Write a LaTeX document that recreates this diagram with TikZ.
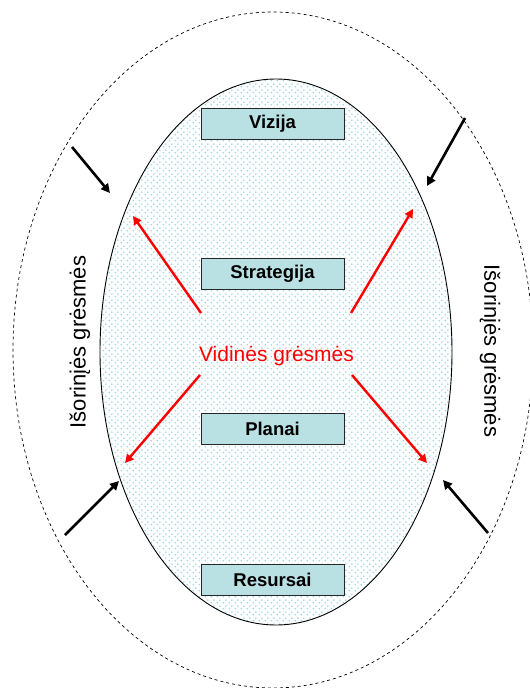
\documentclass[tikz,border=0pt]{standalone}
\usepackage{fontspec}
\setmainfont{Liberation Sans}
\usetikzlibrary{arrows.meta,patterns.meta}
\definecolor{boxfill}{RGB}{185,224,227}
\definecolor{dotcol}{RGB}{150,212,224}
\tikzdeclarepattern{name=ovaldots, type=uncolored,
  bounding box={(0pt,0pt) and (6pt,6pt)}, tile size={(6pt,6pt)},
  code={\fill (1.5pt,1.5pt) circle (0.95pt); \fill (4.5pt,4.5pt) circle (0.95pt);}}
\begin{document}
\begin{tikzpicture}[x=1pt,y=-1pt,
  levelbox/.style={draw=black!85, line width=1pt, fill=boxfill, minimum width=143pt,
    minimum height=31pt, inner sep=0pt, font=\fontsize{18.5}{20}\selectfont\bfseries},
  outarrow/.style={line width=2.6pt, -{Triangle[length=9pt,width=9pt]}},
  inarrow/.style={red, line width=2.4pt, -{Triangle[length=8.5pt,width=8.5pt]}},
  sidetext/.style={font=\fontsize{22}{24}\selectfont}]
\useasboundingbox (0,0) rectangle (530,688);
\fill[white] (0,0) rectangle (530,688);
\begin{scope}
\clip (0,0) rectangle (530,688);
\draw[dash pattern=on 3pt off 3pt, line width=0.7pt] (273,350) ellipse [x radius=260pt, y radius=338pt];
\end{scope}
\fill[white] (276,352) ellipse [x radius=176pt, y radius=273pt];
\fill[pattern=ovaldots, pattern color=dotcol] (276,352) ellipse [x radius=176pt, y radius=273pt];
\draw[line width=0.9pt] (276,352) ellipse [x radius=176pt, y radius=273pt];

\node[levelbox] (vizija) at (272.5,123.5) {Vizija};
\node[levelbox] (strategija) at (272.5,274) {Strategija};
\node[levelbox] (planai) at (272.5,428.5) {Planai};
\node[levelbox] (resursai) at (272.5,579.5) {Resursai};

\node[red, font=\fontsize{21}{24}\selectfont, anchor=base] (vidines) at (276.5,361) {Vidinės grėsmės};
\node[sidetext, rotate=90] (leftthreat) at (80,342) {Išorinįės grėsmės};
\node[sidetext, rotate=-90] (rightthreat) at (490,351) {Išorinįės grėsmės};

% red internal arrows
\coordinate (rulS) at (201,313); \coordinate (rulE) at (133,216);
\coordinate (rurS) at (351,313); \coordinate (rurE) at (413,209);
\coordinate (rllS) at (200,375); \coordinate (rllE) at (125,463);
\coordinate (rlrS) at (352,375); \coordinate (rlrE) at (427,463);
\draw[inarrow] (rulS) -- (rulE);
\draw[inarrow] (rurS) -- (rurE);
\draw[inarrow] (rllS) -- (rllE);
\draw[inarrow] (rlrS) -- (rlrE);

% black external arrows
\coordinate (bulS) at (72,147); \coordinate (bulE) at (110,193);
\coordinate (burS) at (465,118); \coordinate (burE) at (427,186);
\coordinate (bllS) at (65,535); \coordinate (bllE) at (119,481);
\coordinate (blrS) at (488,533); \coordinate (blrE) at (443,480);
\draw[outarrow] (bulS) -- (bulE);
\draw[outarrow] (burS) -- (burE);
\draw[outarrow] (bllS) -- (bllE);
\draw[outarrow] (blrS) -- (blrE);
\end{tikzpicture}
\end{document}
